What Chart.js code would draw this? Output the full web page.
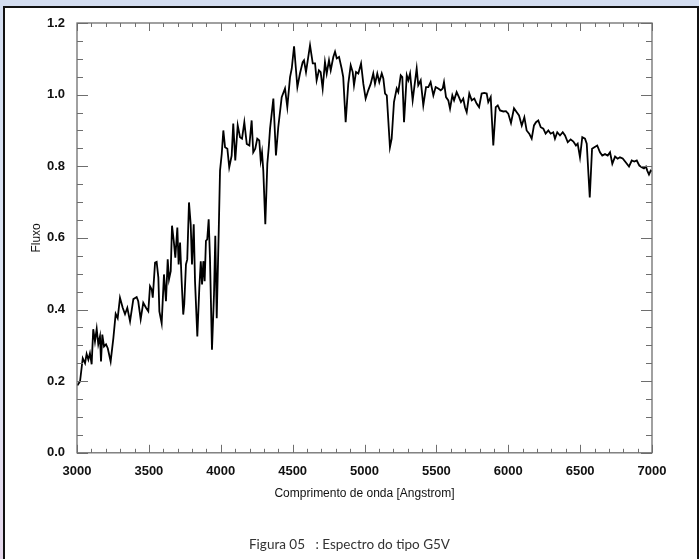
<!DOCTYPE html>
<html>
<head>
<meta charset="utf-8">
<script src="https://cdn.jsdelivr.net/npm/chart.js@4.4.0/dist/chart.umd.min.js"></script>
<style>
  html, body { margin: 0; padding: 0; }
  body {
    width: 699px; height: 559px; overflow: hidden; position: relative;
    background: linear-gradient(180deg, #d3ddf0 0%, #dfe6f4 60%, #e6d8ec 100%);
  }
  .frame {
    position: absolute; left: 3px; top: 6px; width: 692px; height: 570px;
    background: #fff; border: 2px solid #111;
  }
  #chart { position: absolute; left: 0; top: 0; }
</style>
</head>
<body>
<div class="frame"></div>
<canvas id="chart" width="699" height="559"></canvas>
<script>
// wavelength (Angstrom) and normalised flux
const wavelength = [
  3002, 3021, 3040, 3056, 3067, 3079, 3090, 3102, 3113, 3125, 3137, 3148, 3160, 3167, 3176, 3188,
  3202, 3214, 3234, 3253, 3269, 3283, 3299, 3318, 3334, 3350, 3369, 3392, 3415, 3426, 3443, 3461,
  3480, 3496, 3508, 3520, 3527, 3543, 3554, 3566, 3573, 3589, 3605, 3619, 3631, 3640, 3652, 3661,
  3673, 3684, 3698, 3707, 3717, 3728, 3739, 3746, 3758, 3767, 3779, 3791, 3800, 3812, 3821, 3837,
  3851, 3861, 3870, 3879, 3888, 3897, 3906, 3916, 3925, 3939, 3953, 3962, 3972, 3986, 3995, 4007,
  4018, 4030, 4046, 4059, 4076, 4087, 4101, 4118, 4134, 4148, 4164, 4181, 4199, 4215, 4226, 4240,
  4254, 4268, 4278, 4287, 4296, 4310, 4324, 4334, 4343, 4366, 4384, 4400, 4424, 4447, 4463, 4482,
  4494, 4510, 4533, 4551, 4570, 4579, 4593, 4621, 4640, 4656, 4667, 4683, 4695, 4709, 4725, 4737,
  4753, 4765, 4783, 4795, 4807, 4823, 4841, 4852, 4869, 4887, 4904, 4918, 4927, 4941, 4957, 4976,
  4992, 5008, 5026, 5043, 5061, 5073, 5089, 5103, 5120, 5131, 5143, 5155, 5177, 5189, 5205, 5224,
  5235, 5252, 5263, 5275, 5294, 5305, 5317, 5335, 5363, 5374, 5391, 5409, 5428, 5444, 5460, 5479,
  5495, 5513, 5530, 5544, 5553, 5567, 5583, 5595, 5611, 5623, 5641, 5657, 5671, 5687, 5699, 5711,
  5729, 5746, 5764, 5780, 5797, 5815, 5833, 5850, 5861, 5878, 5896, 5913, 5927, 5943, 5966, 5984,
  6000, 6019, 6040, 6059, 6075, 6094, 6112, 6128, 6146, 6163, 6179, 6193, 6209, 6226, 6244, 6260,
  6279, 6295, 6313, 6325, 6341, 6360, 6379, 6395, 6414, 6434, 6453, 6471, 6483, 6499, 6515, 6534,
  6546, 6567, 6583, 6599, 6619, 6638, 6654, 6673, 6692, 6708, 6724, 6743, 6761, 6777, 6796, 6817,
  6840, 6859, 6877, 6894, 6912, 6928, 6944, 6958, 6967, 6979, 6991, 7000
];
const flux = [
  0.188, 0.199, 0.264, 0.250, 0.276, 0.260, 0.278, 0.247, 0.345, 0.311, 0.346, 0.303, 0.325, 0.255, 0.330, 0.297,
  0.303, 0.292, 0.255, 0.320, 0.388, 0.376, 0.433, 0.405, 0.387, 0.405, 0.367, 0.429, 0.435, 0.423, 0.373, 0.419,
  0.405, 0.395, 0.465, 0.456, 0.433, 0.531, 0.533, 0.489, 0.395, 0.362, 0.498, 0.423, 0.540, 0.484, 0.507, 0.634,
  0.592, 0.545, 0.629, 0.526, 0.587, 0.479, 0.386, 0.414, 0.526, 0.540, 0.699, 0.638, 0.526, 0.638, 0.479, 0.325,
  0.461, 0.535, 0.470, 0.535, 0.479, 0.592, 0.596, 0.652, 0.545, 0.288, 0.442, 0.606, 0.376, 0.620, 0.788, 0.835,
  0.900, 0.853, 0.849, 0.797, 0.830, 0.919, 0.816, 0.914, 0.881, 0.877, 0.923, 0.862, 0.858, 0.928, 0.839, 0.849,
  0.877, 0.872, 0.816, 0.839, 0.788, 0.638, 0.807, 0.853, 0.905, 0.989, 0.830, 0.909, 0.993, 1.017, 0.965, 1.049,
  1.073, 1.135, 1.021, 1.059, 1.091, 1.096, 1.063, 1.138, 1.087, 1.087, 1.040, 1.068, 1.063, 1.017, 1.091, 1.059,
  1.096, 1.068, 1.105, 1.120, 1.101, 1.105, 1.073, 1.049, 0.923, 1.030, 1.082, 1.063, 1.026, 1.063, 1.059, 1.087,
  1.030, 0.989, 1.012, 1.030, 1.059, 1.030, 1.059, 1.035, 1.059, 1.045, 1.003, 0.998, 0.853, 0.877, 0.979, 1.017,
  1.007, 1.054, 1.049, 0.923, 1.054, 1.040, 1.059, 0.984, 1.073, 1.026, 1.040, 0.970, 1.021, 1.021, 1.035, 0.998,
  1.021, 1.017, 1.012, 1.017, 1.035, 0.993, 0.984, 0.961, 0.998, 0.984, 1.007, 0.993, 0.979, 0.989, 0.965, 0.951,
  1.003, 0.984, 0.989, 0.975, 0.965, 1.003, 1.005, 1.003, 0.979, 0.993, 0.858, 0.965, 0.970, 0.956, 0.953, 0.954,
  0.947, 0.921, 0.962, 0.951, 0.942, 0.914, 0.937, 0.900, 0.891, 0.877, 0.914, 0.923, 0.928, 0.909, 0.905, 0.891,
  0.900, 0.891, 0.895, 0.877, 0.895, 0.886, 0.895, 0.886, 0.867, 0.875, 0.869, 0.858, 0.863, 0.825, 0.881, 0.877,
  0.863, 0.713, 0.849, 0.853, 0.858, 0.839, 0.830, 0.834, 0.830, 0.839, 0.807, 0.827, 0.821, 0.825, 0.822, 0.811,
  0.799, 0.816, 0.813, 0.816, 0.802, 0.797, 0.794, 0.799, 0.788, 0.777, 0.788, 0.786
];

const xMin = 3000, xMax = 7000, xMajor = 500, xMinor = 100;
const yMin = 0, yMax = 1.2, yMajor = 0.2, yMinor = 0.05;

const xTitle = 'Comprimento de onda [Angstrom]';
const yTitle = 'Fluxo';
const caption = 'Figura 05   : Espectro do tipo G5V';

let points = wavelength.map((w, i) => ({ x: w, y: flux[i] }));

// IDL style box: axes on all four sides, ticks pointing inwards
const boxTicks = {
  id: 'boxTicks',
  afterDatasetsDraw(chart) {
    const ctx = chart.ctx;
    const a = chart.chartArea;
    const xs = chart.scales.x, ys = chart.scales.y;
    ctx.save();
    ctx.strokeStyle = '#6e6e6e';
    ctx.lineWidth = 1;
    ctx.beginPath();
    for (let v = xMin; v <= xMax + 1e-6; v += xMinor) {
      let px = Math.round(xs.getPixelForValue(v)) + 0.5;
      let len = (Math.abs(v % xMajor) < 1e-6) ? 8 : 4;
      ctx.moveTo(px, a.bottom); ctx.lineTo(px, a.bottom - len);
      ctx.moveTo(px, a.top); ctx.lineTo(px, a.top + len);
    }
    for (let i = 0; i <= Math.round((yMax - yMin) / yMinor); i++) {
      let v = yMin + i * yMinor;
      let py = Math.round(ys.getPixelForValue(v)) + 0.5;
      let len = (i % 4 === 0) ? 11 : 6;
      ctx.moveTo(a.left, py); ctx.lineTo(a.left + len, py);
      ctx.moveTo(a.right, py); ctx.lineTo(a.right - len, py);
    }
    ctx.stroke();
    ctx.lineWidth = 1.3;
    ctx.strokeRect(a.left, a.top, a.right - a.left, a.bottom - a.top);
    ctx.restore();
  }
};

const config = {
  type: 'line',
  data: {
    datasets: [{
      data: points,
      borderColor: '#000',
      borderWidth: 1.8,
      pointRadius: 0,
      tension: 0,
      fill: false
    }]
  },
  options: {
    responsive: false,
    animation: false,
    layout: { padding: { left: 0, top: 23, right: 0, bottom: 0 } },
    plugins: {
      legend: { display: false },
      tooltip: { enabled: false },
      title: {
        display: true,
        text: caption,
        position: 'bottom',
        color: '#333',
        font: { family: 'Lato', size: 13.5, weight: 'normal' },
        padding: { top: 0, bottom: 6 }
      }
    },
    scales: {
      x: {
        type: 'linear',
        min: xMin, max: xMax,
        grid: { display: false },
        border: { display: false },
        ticks: {
          stepSize: xMajor,
          padding: 3,
          color: '#111',
          font: { family: 'Liberation Sans', size: 13, weight: 'bold' },
          callback: v => String(v)
        },
        title: {
          display: true,
          text: xTitle,
          color: '#111',
          font: { family: 'Liberation Sans', size: 12 },
          padding: { top: 0, bottom: 36 }
        },
        afterFit(s) { s.height = 84 }
      },
      y: {
        min: yMin, max: yMax,
        grid: { display: false },
        border: { display: false },
        ticks: {
          stepSize: yMajor,
          padding: 4,
          color: '#111',
          font: { family: 'Liberation Sans', size: 13, weight: 'bold' },
          callback: v => Number(v).toFixed(1)
        },
        title: {
          display: true,
          text: yTitle,
          color: '#111',
          font: { family: 'Liberation Sans', size: 12 },
          padding: { top: 29, bottom: 0 }
        },
        afterFit(s) { s.width = 77 }
      },
      // empty right-hand box so the plot ends at the same place as in the figure
      yRight: {
        position: 'right',
        grid: { display: false },
        border: { display: false },
        ticks: { display: false },
        afterFit(s) { s.width = 47 }
      }
    }
  },
  plugins: [boxTicks]
};

const myChart = new Chart(document.getElementById('chart'), config);
</script>
</body>
</html>
